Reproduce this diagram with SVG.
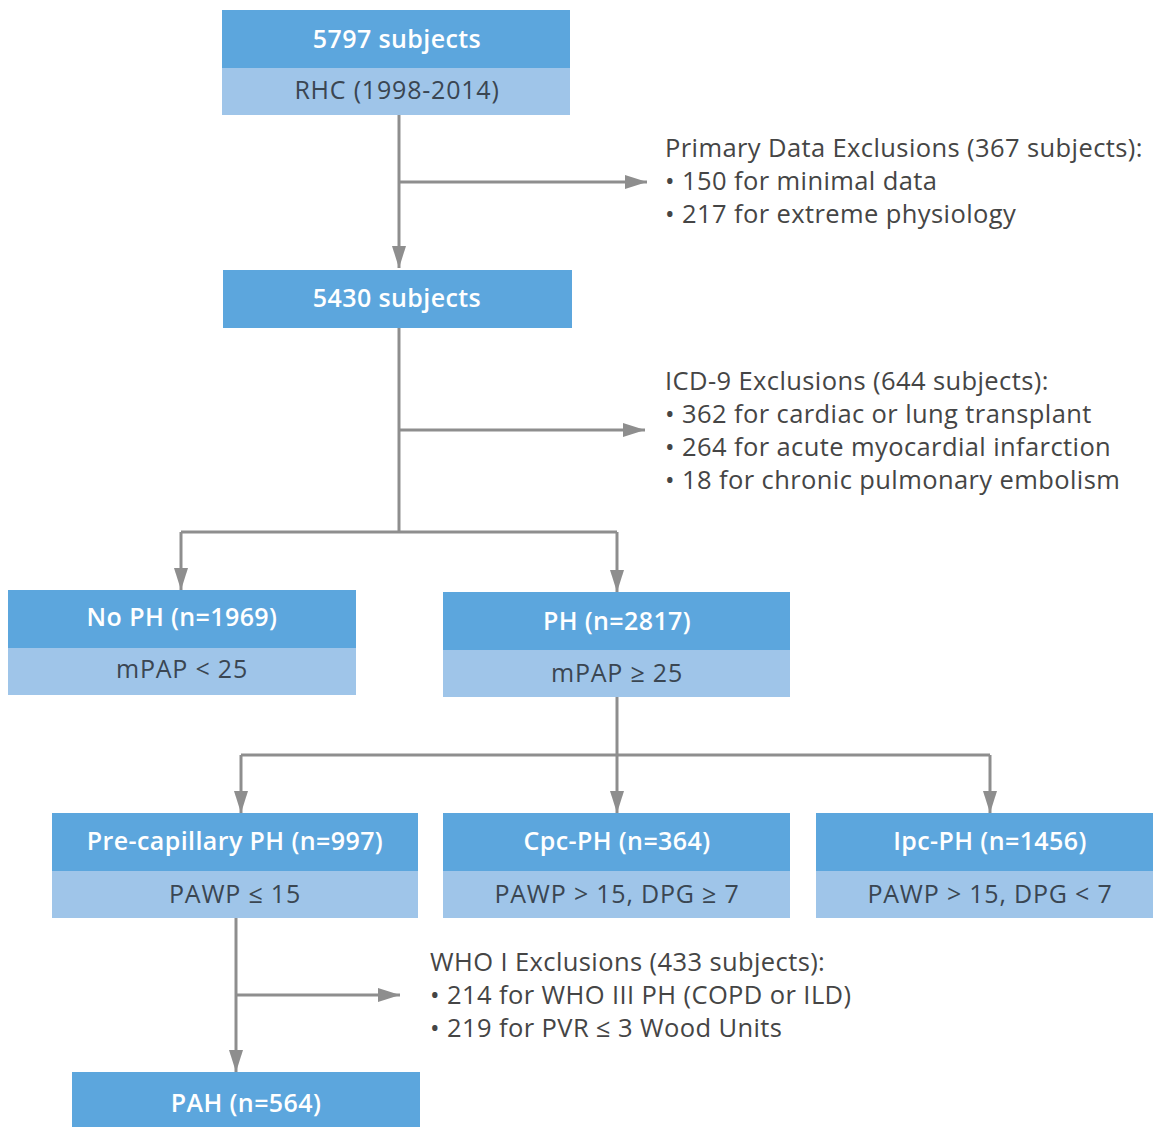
<svg xmlns="http://www.w3.org/2000/svg" width="1153" height="1127" viewBox="0 0 1153 1127">
<defs>
<marker id="ah" viewBox="0 0 22 14" refX="22" refY="7" markerWidth="22" markerHeight="14" markerUnits="userSpaceOnUse" orient="auto">
<path d="M0,0 L22,7 L0,14 Z" fill="#8e8e8e"/>
</marker>
<style>
.dk{fill:#5ca6dd}
.lt{fill:#9fc5e9}
.th{font-family:"Open Sans","Liberation Sans",sans-serif;font-weight:600;font-size:25px;letter-spacing:0.4px;fill:#ffffff;text-anchor:middle}
.ts{font-family:"Open Sans","Liberation Sans",sans-serif;font-size:25px;letter-spacing:0.8px;fill:#3a4652;text-anchor:middle}
.tx{font-family:"Open Sans","Liberation Sans",sans-serif;font-size:25.5px;letter-spacing:0.4px;fill:#454545}
.ln{stroke:#8e8e8e;stroke-width:3;fill:none}
</style>
</defs>
<rect width="1153" height="1127" fill="#ffffff"/>
<g id="connectors">
<path class="ln" d="M399,115 V268" marker-end="url(#ah)"/>
<path class="ln" d="M399,182 H647" marker-end="url(#ah)"/>
<path class="ln" d="M399,328 V532"/>
<path class="ln" d="M399,430 H645" marker-end="url(#ah)"/>
<path class="ln" d="M181,532 H617"/>
<path class="ln" d="M181,532 V590" marker-end="url(#ah)"/>
<path class="ln" d="M617,532 V592" marker-end="url(#ah)"/>
<path class="ln" d="M617,697 V813" marker-end="url(#ah)"/>
<path class="ln" d="M241,755 H990"/>
<path class="ln" d="M241,755 V813" marker-end="url(#ah)"/>
<path class="ln" d="M990,755 V813" marker-end="url(#ah)"/>
<path class="ln" d="M236,918 V1072" marker-end="url(#ah)"/>
<path class="ln" d="M236,995 H400" marker-end="url(#ah)"/>
</g>
<g id="n5797">
<rect class="dk" x="222" y="10" width="348" height="58"/>
<rect class="lt" x="222" y="68" width="348" height="47"/>
<text class="th" x="397" y="48">5797 subjects</text>
<text class="ts" x="397" y="99">RHC (1998-2014)</text>
</g>
<g id="excl1">
<text class="tx" x="665" y="157">Primary Data Exclusions (367 subjects):</text>
<text class="tx" x="665" y="190">• 150 for minimal data</text>
<text class="tx" x="665" y="223">• 217 for extreme physiology</text>
</g>
<g id="n5430">
<rect class="dk" x="223" y="270" width="349" height="58"/>
<text class="th" x="397" y="307">5430 subjects</text>
</g>
<g id="excl2">
<text class="tx" x="665" y="390">ICD-9 Exclusions (644 subjects):</text>
<text class="tx" x="665" y="423">• 362 for cardiac or lung transplant</text>
<text class="tx" x="665" y="456">• 264 for acute myocardial infarction</text>
<text class="tx" x="665" y="489">• 18 for chronic pulmonary embolism</text>
</g>
<g id="noph">
<rect class="dk" x="8" y="590" width="348" height="58"/>
<rect class="lt" x="8" y="648" width="348" height="47"/>
<text class="th" x="182" y="626">No PH (n=1969)</text>
<text class="ts" x="182" y="678">mPAP &lt; 25</text>
</g>
<g id="ph">
<rect class="dk" x="443" y="592" width="347" height="58"/>
<rect class="lt" x="443" y="650" width="347" height="47"/>
<text class="th" x="617" y="630">PH (n=2817)</text>
<text class="ts" x="617" y="682">mPAP ≥ 25</text>
</g>
<g id="precap">
<rect class="dk" x="52" y="813" width="366" height="58"/>
<rect class="lt" x="52" y="871" width="366" height="47"/>
<text class="th" x="235" y="850">Pre-capillary PH (n=997)</text>
<text class="ts" x="235" y="903">PAWP ≤ 15</text>
</g>
<g id="cpc">
<rect class="dk" x="443" y="813" width="347" height="58"/>
<rect class="lt" x="443" y="871" width="347" height="47"/>
<text class="th" x="617" y="850">Cpc-PH (n=364)</text>
<text class="ts" x="617" y="903">PAWP &gt; 15, DPG ≥ 7</text>
</g>
<g id="ipc">
<rect class="dk" x="816" y="813" width="337" height="58"/>
<rect class="lt" x="816" y="871" width="337" height="47"/>
<text class="th" x="990" y="850">Ipc-PH (n=1456)</text>
<text class="ts" x="990" y="903">PAWP &gt; 15, DPG &lt; 7</text>
</g>
<g id="excl3">
<text class="tx" x="430" y="971">WHO I Exclusions (433 subjects):</text>
<text class="tx" x="430" y="1004">• 214 for WHO III PH (COPD or ILD)</text>
<text class="tx" x="430" y="1037">• 219 for PVR ≤ 3 Wood Units</text>
</g>
<g id="pah">
<rect class="dk" x="72" y="1072" width="348" height="55"/>
<text class="th" x="246" y="1112">PAH (n=564)</text>
</g>
</svg>
